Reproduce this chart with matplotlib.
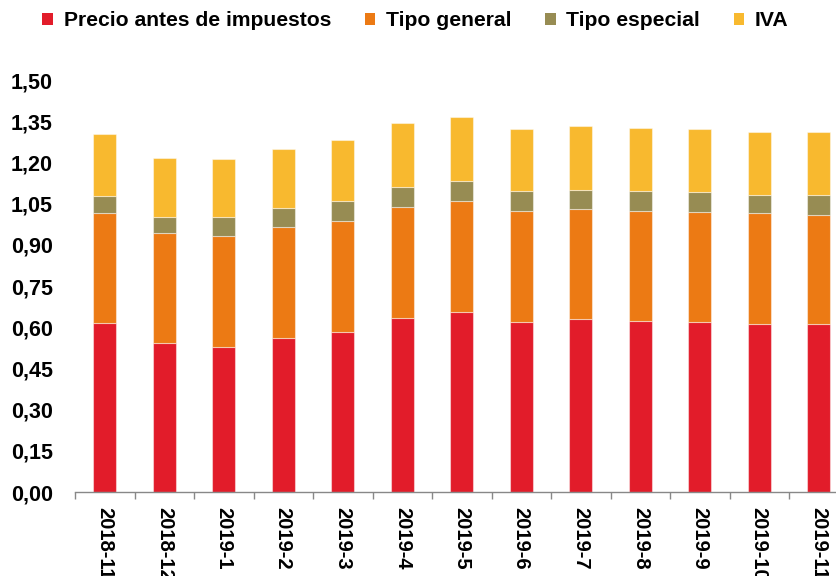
import matplotlib
matplotlib.use("Agg")
import matplotlib.pyplot as plt
import numpy as np
from matplotlib.patches import Patch

categories = ["2018-11", "2018-12", "2019-1", "2019-2", "2019-3", "2019-4", "2019-5",
              "2019-6", "2019-7", "2019-8", "2019-9", "2019-10", "2019-11"]
precio = [0.617, 0.542, 0.529, 0.562, 0.584, 0.635, 0.657, 0.619, 0.629, 0.623, 0.619, 0.613, 0.610]
tipo_general = [0.400, 0.400, 0.403, 0.402, 0.402, 0.402, 0.402, 0.403, 0.402, 0.401, 0.402, 0.401, 0.400]
tipo_especial = [0.062, 0.061, 0.071, 0.070, 0.072, 0.072, 0.072, 0.073, 0.070, 0.071, 0.071, 0.069, 0.072]
iva = [0.225, 0.212, 0.210, 0.215, 0.224, 0.233, 0.233, 0.228, 0.233, 0.231, 0.229, 0.228, 0.228]

series = [("Precio antes de impuestos", precio, "#E21C2A"),
          ("Tipo general", tipo_general, "#EC7A14"),
          ("Tipo especial", tipo_especial, "#978C53"),
          ("IVA", iva, "#F8B92F")]

yticks = [0.0, 0.15, 0.30, 0.45, 0.60, 0.75, 0.90, 1.05, 1.20, 1.35, 1.50]

plt.rcParams['font.family'] = ['Liberation Sans', 'DejaVu Sans']

W, H = 837, 576
fig = plt.figure(figsize=(W / 100, H / 100), dpi=100)
ax_left, ax_right, ax_top, ax_bottom = 75, 848.5, 80, 492
ax = fig.add_axes([ax_left / W, 1 - ax_bottom / H, (ax_right - ax_left) / W, (ax_bottom - ax_top) / H])

x = np.arange(len(categories))
bottom = np.zeros(len(categories))
for name, vals, col in series:
    vals = np.array(vals)
    ax.bar(x, vals, bottom=bottom, width=0.39, color=col, edgecolor=(1, 1, 1, 0.45),
           linewidth=0.8, label=name)
    bottom += vals

ax.set_xlim(-0.5, len(categories) - 0.5)
ax.set_ylim(0, 1.5)
ax.set_yticks(yticks)
ax.set_yticklabels([f"{v:.2f}".replace(".", ",") for v in yticks],
                   fontsize=15.5, fontweight='bold')
ax.tick_params(axis='y', length=0, pad=16)

ax.set_xticks(x)
ax.set_xticklabels(categories, rotation=270, fontsize=14.5, fontweight='bold', va='top', ha='center')
ax.tick_params(axis='x', which='major', length=0, pad=11)
ax.set_xticks(np.arange(len(categories) + 1) - 0.5, minor=True)
ax.tick_params(axis='x', which='minor', length=5, color='#888888', width=1)

for s in ['left', 'right', 'top']:
    ax.spines[s].set_visible(False)
ax.spines['bottom'].set_color('#888888')
ax.spines['bottom'].set_linewidth(1)

handles = [Patch(facecolor=c, edgecolor='none') for _, _, c in series]
labels = [n for n, _, _ in series]
fig.legend(handles, labels, loc='center left', bbox_to_anchor=(34 / W, 1 - 21 / H),
           ncol=4, frameon=False, prop={'size': 15.2, 'weight': 'bold'},
           handlelength=0.5, handleheight=0.5, handletextpad=0.5, columnspacing=1.6,
           borderaxespad=0)

fig.savefig("out.png", dpi=100)
